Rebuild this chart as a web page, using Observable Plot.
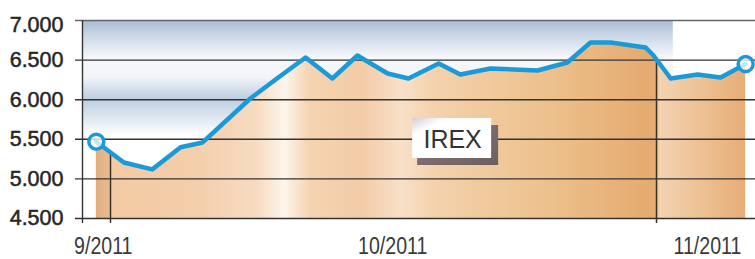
<!DOCTYPE html>
<html><head><meta charset="utf-8">
<script src="https://cdn.jsdelivr.net/npm/d3@7"></script>
<script src="https://cdn.jsdelivr.net/npm/@observablehq/plot@0.6"></script>
<style>body{margin:0;background:#fff} svg{display:block}</style>
</head><body><div id="chart"></div>
<script>
// ---- data ----
const dates = [
  "2011-08-30T10:00Z","2011-09-02T12:00Z","2011-09-05T16:00Z","2011-09-08T20:00Z",
  "2011-09-11T07:00Z","2011-09-16T15:00Z","2011-09-19T18:00Z","2011-09-22T19:00Z",
  "2011-09-25T19:00Z","2011-09-28T14:00Z","2011-10-01T23:00Z","2011-10-04T07:00Z",
  "2011-10-07T16:00Z","2011-10-10T02:00Z","2011-10-13T11:00Z","2011-10-18T17:00Z",
  "2011-10-22T01:00Z","2011-10-24T15:00Z","2011-10-26T21:00Z","2011-10-30T19:00Z",
  "2011-10-31T16:00Z","2011-11-02T14:00Z","2011-11-05T14:00Z","2011-11-08T04:00Z",
  "2011-11-10T23:00Z"
];
const values = [
  5470, 5207, 5120, 5400,
  5460, 6015, 6280, 6533,
  6268, 6558, 6331, 6268,
  6457, 6318, 6394, 6369,
  6470, 6722, 6722, 6659,
  6558, 6268, 6318, 6280,
  6450
];
const yTicks = [4500, 5000, 5500, 6000, 6500, 7000];
const xTickLabels = ["9/2011", "10/2011", "11/2011"];
const xTickLabelDates = ["2011-08-31T06:00Z", "2011-10-02T14:00Z", "2011-11-06T18:00Z"];
const monthStarts = ["2011-09-01T00:00Z", "2011-11-01T00:00Z"];
const seriesName = "IREX";
const seriesLabelDate = "2011-10-09T04:00Z";
const seriesLabelValue = 5510;
const highlightEnd = "2011-11-02T21:00Z";
const xDomain = ["2011-08-28T20:56Z", "2011-11-12T01:26Z"];
const yDomain = [4500, 7000];

// ---- derived ----
const data = dates.map((d, i) => ({date: new Date(d), value: values[i]}));
const bis = d3.bisector(d => d.date).left;
function valueAt(t) {
  t = new Date(t);
  const i = Math.max(1, Math.min(data.length - 1, bis(data, t)));
  const a = data[i - 1], b = data[i];
  const f = (t - a.date) / (b.date - a.date);
  return a.value + f * (b.value - a.value);
}
const loc = d3.formatLocale({decimal: ",", thousands: ".", grouping: [3], currency: ["", ""]});
const fmt = loc.format(",d");
const NS = "http://www.w3.org/2000/svg";
const FONT = "Liberation Sans, Arial, Helvetica, sans-serif";

const defs = () => {
  const g = document.createElementNS(NS, "g");
  g.innerHTML = `<defs>
    <linearGradient id="sky" x1="0" y1="0" x2="0" y2="1">
      <stop offset="0" stop-color="#a7bcd6"/>
      <stop offset="0.1" stop-color="#d3deeb"/>
      <stop offset="0.19" stop-color="#f6f8fb"/>
      <stop offset="0.29" stop-color="#f2f5f9"/>
      <stop offset="0.40" stop-color="#bccde1"/>
      <stop offset="0.58" stop-color="#ffffff"/>
      <stop offset="1" stop-color="#ffffff"/>
    </linearGradient>
    <linearGradient id="tan" x1="0" y1="0" x2="1" y2="0">
      <stop offset="0" stop-color="#e2ad7e"/>
      <stop offset="0.02" stop-color="#e9bb90"/>
      <stop offset="0.024" stop-color="#f3caa3"/>
      <stop offset="0.16" stop-color="#f4cfab"/>
      <stop offset="0.25" stop-color="#f7dcc3"/>
      <stop offset="0.29" stop-color="#fdf5ec"/>
      <stop offset="0.33" stop-color="#f5d3b1"/>
      <stop offset="0.41" stop-color="#f3cca8"/>
      <stop offset="0.47" stop-color="#f8e0c8"/>
      <stop offset="0.52" stop-color="#f4d2ac"/>
      <stop offset="0.71" stop-color="#ecbf8a"/>
      <stop offset="0.855" stop-color="#e5aa6e"/>
      <stop offset="0.862" stop-color="#e6ae77"/>
      <stop offset="0.868" stop-color="#f3d3b1"/>
      <stop offset="1" stop-color="#e7ad76"/>
    </linearGradient>
    <linearGradient id="boxfill" x1="0" y1="0" x2="1" y2="1">
      <stop offset="0" stop-color="#d4cbd2"/>
      <stop offset="0.22" stop-color="#ffffff"/>
      <stop offset="1" stop-color="#ffffff"/>
    </linearGradient>
    <linearGradient id="shadow" x1="0" y1="0" x2="1" y2="1">
      <stop offset="0" stop-color="#a99ca2"/>
      <stop offset="0.5" stop-color="#7c6b6d"/>
      <stop offset="1" stop-color="#6e5e5e"/>
    </linearGradient>
  </defs>`;
  return g;
};

const labelBox = (index, scales) => {
  const cx = scales.x(new Date(seriesLabelDate)), cy = scales.y(seriesLabelValue);
  const w = 79, h = 40;
  const g = document.createElementNS(NS, "g");
  g.innerHTML = `
    <rect x="${cx - w / 2 + 5}" y="${cy - h / 2 + 7}" width="${w + 2}" height="${h}" fill="url(#shadow)"/>
    <rect x="${cx - w / 2}" y="${cy - h / 2}" width="${w}" height="${h}" fill="url(#boxfill)"/>
    <text x="${cx + 1}" y="${cy + 1}" text-anchor="middle" dy="0.36em" font-family="${FONT}" font-size="25" fill="#333">${seriesName}</text>`;
  return g;
};

// x tick labels, horizontally condensed like the original's narrow type
const xLabels = (index, scales, values, dims) => {
  const g = document.createElementNS(NS, "g");
  const base = dims.height - dims.marginBottom + 35.5;
  g.innerHTML = xTickLabels.map((lab, i) => {
    const x = scales.x(new Date(xTickLabelDates[i]));
    return `<text transform="translate(${x},${base}) scale(0.8,1)" text-anchor="middle" font-family="${FONT}" font-size="24.5" fill="#3a3a3a">${lab}</text>`;
  }).join("");
  return g;
};

const chart = Plot.plot({
  width: 755, height: 259,
  marginLeft: 82, marginRight: 0, marginTop: 20, marginBottom: 41,
  x: {type: "utc", domain: xDomain.map(d => new Date(d)), axis: null},
  y: {domain: yDomain, axis: null},
  style: {background: "#fff", overflow: "visible"},
  marks: [
    defs,
    Plot.rect([{a: new Date(xDomain[0]), b: new Date(highlightEnd)}],
      {x1: "a", x2: "b", y1: yDomain[0], y2: yDomain[1], fill: "url(#sky)"}),
    Plot.areaY(data, {x: "date", y1: yDomain[0], y2: "value", fill: "url(#tan)"}),
    Plot.ruleY(yTicks.filter(t => t < 7000), {insetLeft: -7, stroke: "#333", strokeWidth: 1.4}),
    Plot.ruleY(yTicks.filter(t => t === 7000), {insetLeft: -7, stroke: "#666", strokeWidth: 1.4}),
    Plot.ruleX([new Date(xDomain[0])], {insetBottom: -5, stroke: "#333", strokeWidth: 1.4}),
    Plot.ruleX(monthStarts, {x: d => new Date(d), y1: d => valueAt(d), y2: yDomain[0], insetBottom: -5, stroke: "#3a3128", strokeWidth: 1.5}),
    Plot.line(data, {x: "date", y: "value", stroke: "#1b9ad7", strokeWidth: 4.5, strokeLinejoin: "round", strokeLinecap: "round"}),
    Plot.dot([data[0], data[data.length - 1]], {x: "date", y: "value", r: 7.5, stroke: "#1b9ad7", strokeWidth: 3.5, fill: "#fff", fillOpacity: 0.75}),
    labelBox,
    Plot.text(yTicks.filter(t => t < 7000), {y: d => d, text: d => fmt(d), frameAnchor: "left", textAnchor: "end", dx: -19,
      fontSize: 21.5, fill: "#262626", stroke: "#262626", strokeWidth: 0.5, fontFamily: FONT}),
    Plot.text(yTicks.filter(t => t === 7000), {y: d => d, text: d => fmt(d), frameAnchor: "left", textAnchor: "end", dx: -19, dy: 5,
      fontSize: 21.5, fill: "#262626", stroke: "#262626", strokeWidth: 0.5, fontFamily: FONT}),
    xLabels
  ]
});
document.getElementById("chart").appendChild(chart);
</script>
</body></html>
